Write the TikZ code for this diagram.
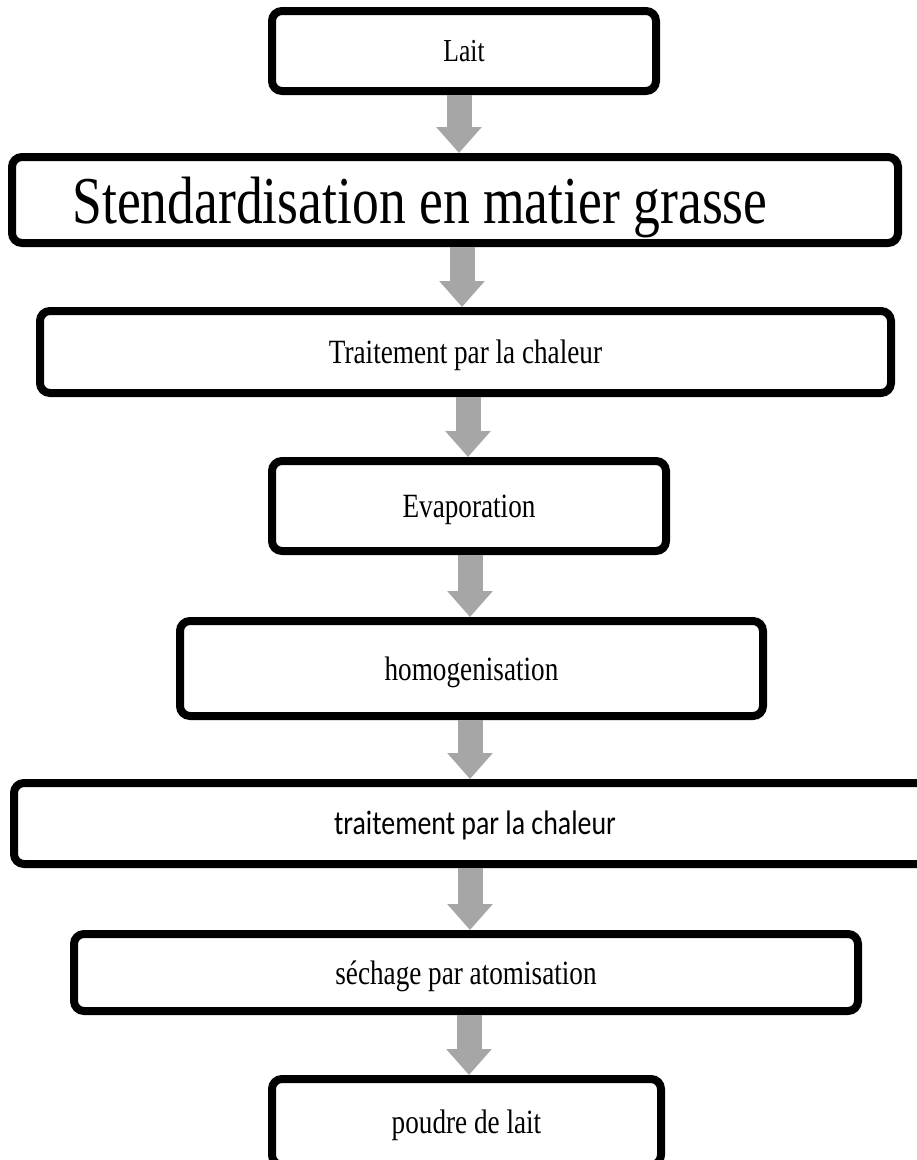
\documentclass[tikz,border=0pt]{standalone}
\usepackage{fontspec}
\setmainfont{Liberation Serif}
\newfontfamily\condserif[FakeStretch=0.8]{Liberation Serif}
\newfontfamily\condsans[FakeStretch=0.82]{Carlito}
\usetikzlibrary{arrows.meta}
\definecolor{arrowgray}{HTML}{A6A6A6}
\begin{document}
\begin{tikzpicture}[x=1pt,y=-1pt,
  stepbox/.style={draw=black, line width=8pt, rounded corners=10pt, inner sep=0pt,
    fill=white, text height=23pt, text depth=0pt,
    font=\condserif\fontsize{34}{40}\selectfont},
  bigtext/.style={inner sep=0pt, text height=45pt, text depth=0pt,
    font=\condserif\fontsize{67}{80}\selectfont},
  flow/.style={draw=arrowgray, line width=25pt, -{Triangle[width=44pt,length=26pt]}}]
\clip (0,0) rectangle (917,1160);
\fill[white] (0,0) rectangle (917,1160);

\node[stepbox, minimum width=384pt, minimum height=80pt, text height=21pt, font=\condserif\fontsize{32}{38}\selectfont] (b1) at (464,51) {Lait};
\node[stepbox, minimum width=886pt, minimum height=86pt] (b2) at (455,200) {};
\node[bigtext] (t2) at (420,201) {Stendardisation en matier grasse};
\node[stepbox, minimum width=851pt, minimum height=82pt] (b3) at (465.5,352) {Traitement par la chaleur};
\node[stepbox, minimum width=394pt, minimum height=90pt] (b4) at (469,506) {Evaporation};
\node[stepbox, minimum width=583pt, minimum height=95pt] (b5) at (471.5,668.5) {homogenisation};
\node[stepbox, minimum width=922pt, minimum height=81pt, text height=21pt, font=\condsans\fontsize{34}{40}\selectfont] (b6) at (475,823.5) {traitement par la chaleur};
\node[stepbox, minimum width=784pt, minimum height=77pt] (b7) at (466,972.5) {séchage par atomisation};
\node[stepbox, minimum width=389pt, minimum height=86pt] (b8) at (466.5,1122) {poudre de lait};

\draw[flow] ([xshift=-5pt]b1.south) -- ([xshift=-5pt]b1.south |- b2.north);
\draw[flow] ([xshift=7pt]b2.south) -- ([xshift=7pt]b2.south |- b3.north);
\draw[flow] ([xshift=2.5pt]b3.south) -- ([xshift=2.5pt]b3.south |- b4.north);
\draw[flow] ([xshift=1pt]b4.south) -- ([xshift=1pt]b4.south |- b5.north);
\draw[flow] ([xshift=-1.5pt]b5.south) -- ([xshift=-1.5pt]b5.south |- b6.north);
\draw[flow] ([xshift=-5pt]b6.south) -- ([xshift=-5pt]b6.south |- b7.north);
\draw[flow] ([xshift=3pt]b7.south) -- ([xshift=3pt]b7.south |- b8.north);
\end{tikzpicture}
\end{document}
